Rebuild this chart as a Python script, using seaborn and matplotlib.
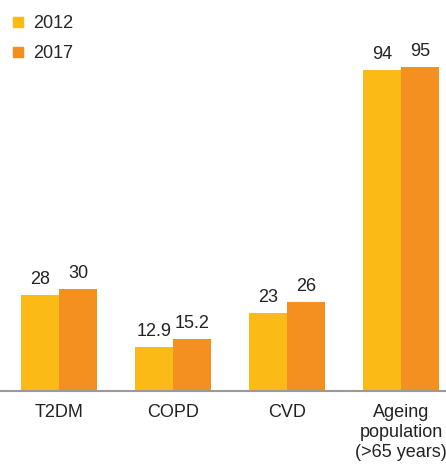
import numpy as np
import pandas as pd
import seaborn as sns
import matplotlib.pyplot as plt
from matplotlib.lines import Line2D

sns.set_theme(style="white")
plt.rcParams['font.family'] = ['Liberation Sans', 'DejaVu Sans']

# data
categories = ["T2DM", "COPD", "CVD", "Ageing\npopulation\n(>65 years)"]
years = ["2012", "2017"]
vals_2012 = [28, 12.9, 23, 94]
vals_2017 = [30, 15.2, 26, 95]
labels_2012 = ["28", "12.9", "23", "94"]
labels_2017 = ["30", "15.2", "26", "95"]
colors = ["#FBBA16", "#F39020"]

df = pd.DataFrame({
    "category": categories * 2,
    "year": [years[0]] * 4 + [years[1]] * 4,
    "value": vals_2012 + vals_2017,
})

fig = plt.figure(figsize=(4.46, 4.65), dpi=100)
ax = fig.add_axes([0, 0.159, 1, 0.841])

sns.barplot(data=df, x="category", y="value", hue="year", palette=colors,
            width=0.667, gap=0, saturation=1, linewidth=0, ax=ax, legend=False)

for cont, labs in zip(ax.containers, [labels_2012, labels_2017]):
    ax.bar_label(cont, labels=labs, padding=5, fontsize=13, color="#222222")

ax.set_xlim(-0.518, 3.395)
ax.set_ylim(0, 114.5)
ax.set_xlabel("")
ax.set_ylabel("")
ax.set_yticks([])
ax.tick_params(axis="x", length=0, pad=9, labelsize=13, labelcolor="#222222")
for t in ax.get_xticklabels():
    t.set_linespacing(1.25)
for s in ["top", "left", "right"]:
    ax.spines[s].set_visible(False)
ax.spines["bottom"].set_color("#9a9a9a")
ax.spines["bottom"].set_linewidth(1.5)

handles = [Line2D([], [], marker="s", linestyle="", markersize=7.5,
                  markerfacecolor=c, markeredgecolor=c) for c in colors]
ax.legend(handles, years, loc="upper left", bbox_to_anchor=(0.004, 0.985),
          frameon=False, fontsize=13, handlelength=0.8, handletextpad=0.45,
          labelspacing=0.72, borderaxespad=0.1)

fig.savefig("out.png", dpi=100)
